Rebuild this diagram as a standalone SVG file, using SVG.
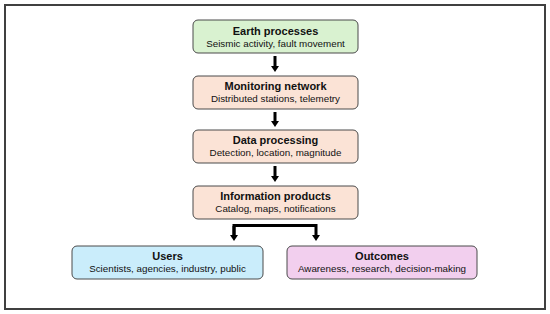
<svg xmlns="http://www.w3.org/2000/svg" width="550" height="314" viewBox="0 0 550 314">
<defs>
<marker id="ah" markerWidth="6" markerHeight="8" refX="0" refY="4" orient="auto" markerUnits="userSpaceOnUse" viewBox="0 0 6 8">
<path d="M0,0 L6,4 L0,8 Z" fill="#000"/>
</marker>
<style>
.box{stroke:#4a4a4a;stroke-width:1}
.t{font-family:"Liberation Sans",Arial,sans-serif;font-weight:bold;font-size:11px;fill:#111;text-anchor:middle}
.s{font-family:"Liberation Sans",Arial,sans-serif;font-size:9.8px;fill:#111;text-anchor:middle}
.c{stroke:#000;stroke-width:3;fill:none}
</style>
</defs>
<rect x="0" y="0" width="550" height="314" fill="#fff"/>
<rect x="5" y="5" width="540" height="304" fill="#fff" stroke="#404040" stroke-width="2"/>
<g id="connectors">
<line class="c" x1="275" y1="56" x2="275" y2="66" marker-end="url(#ah)"/>
<line class="c" x1="275" y1="112" x2="275" y2="121" marker-end="url(#ah)"/>
<line class="c" x1="275" y1="166" x2="275" y2="176" marker-end="url(#ah)"/>
<polyline class="c" points="234,235 234,225.5 316,225.5 316,235" marker-end="url(#ah)"/>
<line class="c" x1="234" y1="226" x2="234" y2="235" marker-end="url(#ah)"/>
</g>
<g id="earth">
<rect class="box" x="193" y="20" width="165" height="33" rx="5" fill="#d9f2d0"/>
<text class="t" x="275.5" y="35">Earth processes</text>
<text class="s" x="275.5" y="47">Seismic activity, fault movement</text>
</g>
<g id="monitoring">
<rect class="box" x="193" y="76" width="165" height="33" rx="5" fill="#fbe3d6"/>
<text class="t" x="275.5" y="90">Monitoring network</text>
<text class="s" x="275.5" y="102">Distributed stations, telemetry</text>
</g>
<g id="processing">
<rect class="box" x="193" y="130" width="165" height="33" rx="5" fill="#fbe3d6"/>
<text class="t" x="275.5" y="144">Data processing</text>
<text class="s" x="275.5" y="156">Detection, location, magnitude</text>
</g>
<g id="products">
<rect class="box" x="193" y="186" width="165" height="33" rx="5" fill="#fbe3d6"/>
<text class="t" x="275.5" y="200">Information products</text>
<text class="s" x="275.5" y="212">Catalog, maps, notifications</text>
</g>
<g id="users">
<rect class="box" x="72" y="246" width="191" height="33" rx="5" fill="#caedfb"/>
<text class="t" x="167.5" y="260">Users</text>
<text class="s" x="167.5" y="272">Scientists, agencies, industry, public</text>
</g>
<g id="outcomes">
<rect class="box" x="287" y="246" width="190" height="33" rx="5" fill="#f2cfee"/>
<text class="t" x="382" y="260">Outcomes</text>
<text class="s" x="382" y="272">Awareness, research, decision-making</text>
</g>
</svg>
